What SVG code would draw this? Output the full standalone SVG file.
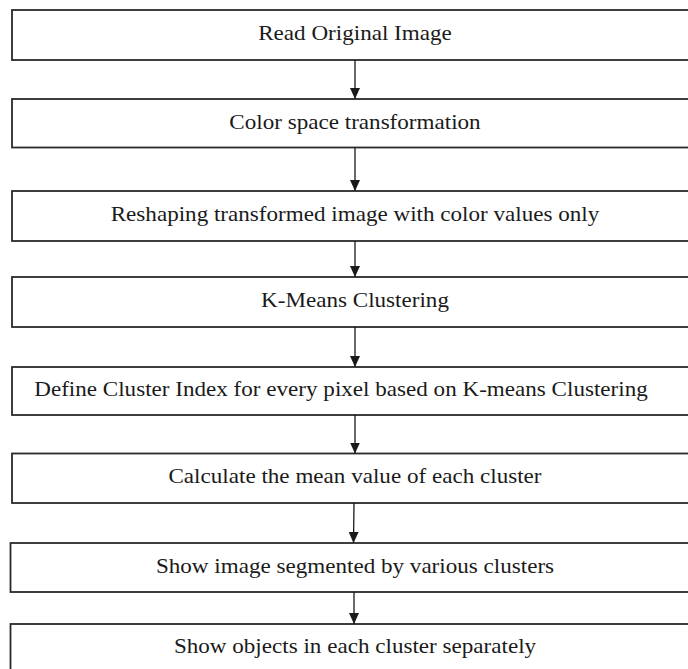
<svg xmlns="http://www.w3.org/2000/svg" width="688" height="669" viewBox="0 0 688 669">
<style>
.box{fill:#fff;stroke:#2a2a2a;stroke-width:1.8}
.lbl{font-family:"Liberation Serif","Times New Roman",serif;font-size:20px;fill:#1a1a1a;text-anchor:middle}
.conn line{stroke:#1a1a1a;stroke-width:1.3}
</style>
<defs>
<marker id="ah" viewBox="0 0 10 11" refX="5" refY="11" markerWidth="10" markerHeight="11" markerUnits="userSpaceOnUse" orient="auto-start-reverse">
<path d="M0,0 L10,0 L5,11 Z" fill="#1a1a1a" transform="rotate(0)"/>
</marker>
<marker id="arr" viewBox="0 0 11 10" refX="11" refY="5" markerWidth="11" markerHeight="10" markerUnits="userSpaceOnUse" orient="auto">
<path d="M0,0 L11,5 L0,10 Z" fill="#1a1a1a"/>
</marker>
</defs>
<rect width="688" height="669" fill="#fff"/>
<g id="n1"><rect class="box" x="12" y="10" width="700" height="50"/><text class="lbl" transform="translate(355,40) scale(1.155,1)">Read Original Image</text></g>
<g id="n2"><rect class="box" x="12" y="99" width="700" height="48.5"/><text class="lbl" transform="translate(355,128.5) scale(1.155,1)">Color space transformation</text></g>
<g id="n3"><rect class="box" x="12" y="191" width="700" height="50"/><text class="lbl" transform="translate(355,221) scale(1.155,1)">Reshaping transformed image with color values only</text></g>
<g id="n4"><rect class="box" x="12" y="277" width="700" height="50"/><text class="lbl" transform="translate(355,307) scale(1.155,1)">K-Means Clustering</text></g>
<g id="n5"><rect class="box" x="12" y="367" width="700" height="48"/><text class="lbl" transform="translate(341,396) scale(1.155,1)">Define Cluster Index for every pixel based on K-means Clustering</text></g>
<g id="n6"><rect class="box" x="12" y="453.5" width="700" height="49.5"/><text class="lbl" transform="translate(355,483) scale(1.155,1)">Calculate the mean value of each cluster</text></g>
<g id="n7"><rect class="box" x="10.5" y="543" width="700" height="49"/><text class="lbl" transform="translate(355,573) scale(1.155,1)">Show image segmented by various clusters</text></g>
<g id="n8"><rect class="box" x="10.5" y="624" width="700" height="60"/><text class="lbl" transform="translate(355,653) scale(1.155,1)">Show objects in each cluster separately</text></g>
<g id="connectors" class="conn">
<line x1="355" y1="60" x2="355" y2="99" marker-end="url(#arr)"/>
<line x1="355" y1="147.5" x2="355" y2="191" marker-end="url(#arr)"/>
<line x1="355" y1="241" x2="355" y2="277" marker-end="url(#arr)"/>
<line x1="355" y1="327" x2="355" y2="367" marker-end="url(#arr)"/>
<line x1="355" y1="415" x2="355" y2="453.5" marker-end="url(#arr)"/>
<line x1="354" y1="503" x2="353.5" y2="543" marker-end="url(#arr)"/>
<line x1="354" y1="592" x2="354" y2="624" marker-end="url(#arr)"/>
</g>
</svg>
